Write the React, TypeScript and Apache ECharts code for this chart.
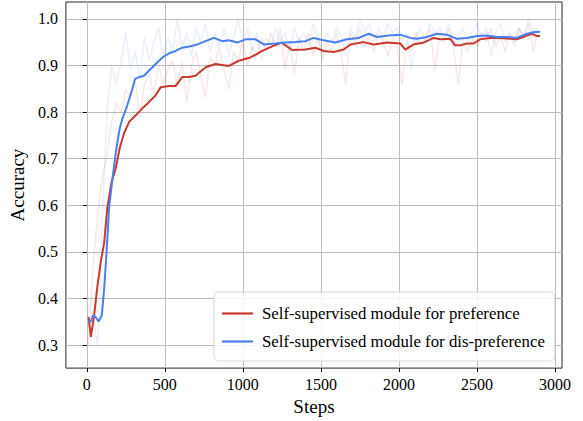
import React, { useEffect, useRef } from "react";
import * as echarts from "echarts";

const xTicks = [0, 500, 1000, 1500, 2000, 2500, 3000];
const yTicks = [0.3, 0.4, 0.5, 0.6, 0.7, 0.8, 0.9, 1.0];

const prefName = "Self-supervised module for preference";
const disName = "Self-supervised module for dis-preference";

const redSteps = [11,26,47,68,90,111,132,158,186,211,239,271,313,356,388,441,473,527,569,612,655,697,761,825,910,974,1049,1124,1188,1248,1316,1401,1465,1518,1582,1646,1689,1774,1838,1924,2009,2041,2094,2158,2222,2265,2329,2361,2393,2436,2478,2521,2585,2649,2713,2756,2820,2852,2884,2905];
const redValues = [0.361,0.318,0.364,0.427,0.48,0.519,0.596,0.649,0.68,0.723,0.755,0.779,0.793,0.808,0.818,0.836,0.853,0.856,0.856,0.875,0.875,0.878,0.896,0.903,0.899,0.91,0.917,0.931,0.941,0.949,0.933,0.934,0.938,0.931,0.929,0.934,0.945,0.95,0.945,0.949,0.947,0.934,0.945,0.949,0.959,0.956,0.957,0.943,0.943,0.947,0.947,0.956,0.959,0.959,0.957,0.956,0.964,0.968,0.963,0.963];

const blueSteps = [11,26,40,58,75,96,111,126,143,168,190,211,228,260,292,309,335,367,399,441,484,527,569,612,665,708,761,814,868,910,964,1017,1081,1134,1209,1273,1337,1401,1454,1518,1593,1668,1742,1806,1860,1934,2009,2073,2116,2180,2244,2308,2372,2436,2500,2564,2628,2692,2756,2820,2862,2905];
const blueValues = [0.353,0.351,0.364,0.36,0.351,0.364,0.42,0.497,0.596,0.667,0.723,0.765,0.786,0.815,0.85,0.871,0.875,0.878,0.889,0.903,0.917,0.926,0.931,0.938,0.941,0.945,0.952,0.959,0.952,0.954,0.949,0.956,0.956,0.945,0.947,0.949,0.95,0.952,0.959,0.954,0.949,0.956,0.959,0.968,0.961,0.964,0.966,0.959,0.957,0.961,0.968,0.966,0.957,0.959,0.963,0.964,0.961,0.961,0.959,0.968,0.971,0.972];

// raw (unsmoothed) accuracy, sampled every 30 steps starting at step 10
const rawStart = 10;
const rawEvery = 30;
const redRaw = [0.30,0.47,0.58,0.66,0.71,0.78,0.82,0.80,0.85,0.83,
  0.87,0.79,0.86,0.88,0.84,0.90,0.86,0.89,0.91,0.85,
  0.91,0.82,0.90,0.93,0.88,0.83,0.92,0.90,0.94,0.89,
  0.85,0.93,0.91,0.95,0.90,0.94,0.92,0.96,0.93,0.97,
  0.94,0.98,0.89,0.95,0.88,0.96,0.93,0.97,0.92,0.96,
  0.91,0.95,0.93,0.97,0.92,0.86,0.97,0.95,0.98,0.94,
  0.96,0.93,0.97,0.95,0.92,0.96,0.94,0.86,0.95,0.93,
  0.97,0.94,0.96,0.98,0.89,0.97,0.95,0.98,0.94,0.86,
  0.95,0.93,0.96,0.94,0.97,0.95,0.98,0.94,0.96,0.93,
  0.97,0.95,0.98,0.96,0.99,0.93,0.97];
const blueRaw = [0.34,0.36,0.30,0.58,0.80,0.90,0.86,0.91,0.97,0.89,
  0.93,0.87,0.96,0.91,0.95,0.98,0.92,0.96,0.93,1.00,
  0.94,0.97,0.92,0.98,0.95,0.99,0.93,0.97,0.94,0.98,
  0.92,0.96,1.00,0.95,0.98,0.93,0.97,0.91,0.96,0.94,
  0.98,0.95,0.97,0.93,0.98,0.95,0.97,0.94,0.99,0.96,
  0.93,0.97,0.95,0.98,0.96,0.92,0.98,0.96,1.00,0.97,
  0.99,0.95,0.98,0.96,0.99,0.97,0.98,0.95,0.97,0.89,
  0.96,0.98,0.95,0.99,0.97,0.98,0.96,0.99,0.94,0.96,
  0.98,0.95,0.97,0.99,0.96,0.98,0.92,0.97,0.99,0.95,
  0.97,0.94,0.98,0.96,1.00,0.97,0.98];

const RED = "#c9392e";
const BLUE = "#4a7ff0";
const FONT = "Liberation Serif";

function pairs(xs: number[], ys: number[]) {
  return ys.map((v, i) => [xs[i], v]);
}
function rawPairs(ys: number[]) {
  return ys.map((v, i) => [rawStart + i * rawEvery, v]);
}

export default function App() {
  const ref = useRef<HTMLDivElement>(null);
  useEffect(() => {
    if (!ref.current) return;
    const chart = echarts.init(ref.current, undefined, { renderer: "svg" });
    chart.setOption({
      animation: false,
      backgroundColor: "#ffffff",
      textStyle: { fontFamily: FONT, color: "#000" },
      grid: {
        left: 65,
        right: 21,
        top: 2,
        bottom: 48,
        show: true,
        borderColor: "#262626",
        borderWidth: 1,
        backgroundColor: "transparent",
      },
      xAxis: {
        type: "value",
        min: -134,
        max: 3045,
        name: "Steps",
        nameLocation: "middle",
        nameGap: 25,
        nameTextStyle: { fontFamily: FONT, fontSize: 19, color: "#000" },
        axisLine: { show: false },
        axisTick: { show: true, inside: false, length: 4, customValues: xTicks, lineStyle: { color: "#000" } },
        axisLabel: {
          customValues: xTicks,
          margin: 8,
          fontFamily: FONT,
          fontSize: 16,
          color: "#000",
          formatter: (v: number) => String(v),
        },
        splitLine: { show: true, lineStyle: { color: "#bcbcbc", width: 1 } },
      },
      yAxis: {
        type: "value",
        min: 0.251,
        max: 1.036,
        name: "Accuracy",
        nameLocation: "middle",
        nameGap: 36,
        nameRotate: 90,
        nameTextStyle: { fontFamily: FONT, fontSize: 19, color: "#000" },
        axisLine: { show: false },
        axisTick: { show: true, inside: false, length: 4, customValues: yTicks, lineStyle: { color: "#000" } },
        axisLabel: {
          customValues: yTicks,
          margin: 8,
          fontFamily: FONT,
          fontSize: 16,
          color: "#000",
          formatter: (v: number) => v.toFixed(1),
        },
        splitLine: { show: true, lineStyle: { color: "#bcbcbc", width: 1 } },
      },
      legend: {
        data: [prefName, disName],
        orient: "vertical",
        left: 214,
        top: 292,
        padding: [12, 10, 10, 8],
        itemGap: 9,
        icon: "rect",
        itemWidth: 31,
        itemHeight: 2.2,
        borderColor: "#d6d6d6",
        borderWidth: 1,
        borderRadius: 5,
        backgroundColor: "rgba(255,255,255,0.85)",
        textStyle: { fontFamily: FONT, fontSize: 16.8, color: "#000", padding: [0, 0, 0, 4], lineHeight: 19 },
      },
      series: [
        {
          name: "raw-pref",
          type: "line",
          data: rawPairs(redRaw),
          symbol: "none",
          lineStyle: { color: "rgba(201,57,46,0.12)", width: 1.5 },
          silent: true,
          z: 1,
        },
        {
          name: "raw-dis",
          type: "line",
          data: rawPairs(blueRaw),
          symbol: "none",
          lineStyle: { color: "rgba(74,127,240,0.12)", width: 1.5 },
          silent: true,
          z: 1,
        },
        {
          name: prefName,
          type: "line",
          data: pairs(redSteps, redValues),
          symbol: "none",
          color: RED,
          itemStyle: { color: RED },
          lineStyle: { color: RED, width: 2 },
          z: 3,
        },
        {
          name: disName,
          type: "line",
          data: pairs(blueSteps, blueValues),
          symbol: "none",
          color: BLUE,
          itemStyle: { color: BLUE },
          lineStyle: { color: BLUE, width: 2 },
          z: 4,
        },
      ],
    });
    return () => chart.dispose();
  }, []);
  return (
    <div
      ref={ref}
      style={{ position: "fixed", left: 0, top: 0, width: 583, height: 421, background: "#fff" }}
    />
  );
}
